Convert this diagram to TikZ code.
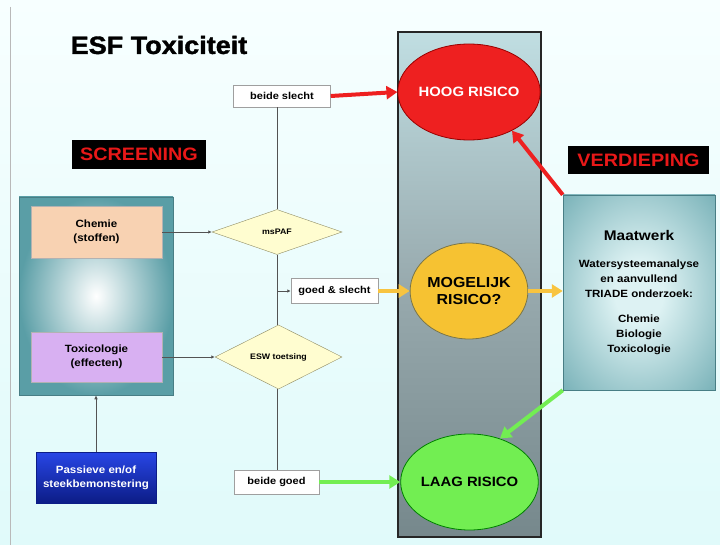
\documentclass[tikz,border=0pt]{standalone}
\usepackage{fontspec}
\setmainfont{Liberation Sans}[FakeStretch=1.1]
\newfontfamily\titlefont{Liberation Sans}[UprightFont={* Bold}, FakeBold=1.5, FakeStretch=1.08]
\usetikzlibrary{shapes.geometric,arrows.meta}
\definecolor{bgtop}{HTML}{F7FFFF}
\definecolor{bgbot}{HTML}{E0FAFA}
\definecolor{tealc}{HTML}{5A9EA6}
\definecolor{teallight}{HTML}{DDF2F3}
\definecolor{redtxt}{HTML}{E81818}
\definecolor{redc}{HTML}{EE2020}
\definecolor{yelc}{HTML}{F6C232}
\definecolor{yelarrow}{HTML}{F8C440}
\definecolor{greenc}{HTML}{72EE52}
\definecolor{paneltop}{HTML}{C0DEE2}
\definecolor{panelmid}{HTML}{98AAAE}
\definecolor{panelbot}{HTML}{76888C}
\definecolor{peach}{HTML}{F8D2B2}
\definecolor{lavender}{HTML}{D8B0F2}
\definecolor{diafill}{HTML}{FFFDD0}
\definecolor{bluetop}{HTML}{2846E6}
\definecolor{bluebot}{HTML}{0C1C86}
\pgfdeclareradialshading{maatshade}{\pgfpoint{0bp}{0bp}}{color(0bp)=(teallight); color(8bp)=(teallight); color(44bp)=(tealc); color(50bp)=(tealc)}
\begin{document}
\begin{tikzpicture}[x=1pt,y=-1pt,
  tag/.style={fill=black, text=redtxt, font=\bfseries\fontsize{18}{20}\selectfont, inner sep=0pt},
  resultbox/.style={draw=gray!75, fill=white, font=\bfseries\fontsize{10}{12}\selectfont, inner sep=0pt},
  risk/.style={ellipse, inner sep=0pt, minimum width=108pt, minimum height=96pt, align=center, line width=0.8pt},
  dia/.style={diamond, draw=gray!70!olive, fill=diafill, inner sep=0pt, font=\bfseries\fontsize{8}{10}\selectfont},
  inbox/.style={inner sep=0pt, minimum width=131pt, align=center, draw=gray!60, font=\bfseries\fontsize{10.5}{14}\selectfont},
  thinline/.style={draw=gray!65!black, line width=0.7pt},
  smalltip/.style={thinline, -{Latex[length=3.5pt,width=3.5pt]}},
  bigarrow/.style={line width=4pt, -{Triangle[length=11pt,width=13pt]}}
]
\useasboundingbox (0,0) rectangle (720,545);
\shade[top color=bgtop, bottom color=bgbot] (0,0) rectangle (720,545);
\draw[gray!55, line width=1pt] (10,7) -- (10,545);

% title and tags
\node[font=\titlefont\fontsize{25}{28}\selectfont] (title) at (159,45) {ESF Toxiciteit};
\node[tag, minimum width=134pt, minimum height=29pt] (screening) at (139,154.5) {SCREENING};
\node[tag, minimum width=141pt, minimum height=28pt] (verdieping) at (638.5,160) {VERDIEPING};

% central panel
\node[draw=black!85, line width=2pt, inner sep=0pt, minimum width=143pt, minimum height=505pt,
      top color=paneltop, bottom color=panelbot, middle color=panelmid] (panel) at (469.5,284.5) {};

% risk circles
\node[risk, fill=redc, draw=red!60!black, text=white, font=\bfseries\fontsize{13.5}{15}\selectfont] (hoog) at (469,92) {HOOG RISICO};
\node[risk, fill=yelc, draw=yellow!40!black, font=\bfseries\fontsize{14.5}{17}\selectfont] (mog) at (469,291) {MOGELIJK\\RISICO?};
\node[risk, fill=greenc, draw=green!50!black, font=\bfseries\fontsize{13.5}{15}\selectfont] (laag) at (469.5,482) {LAAG RISICO};

% maatwerk
\node[shading=maatshade, draw=tealc!80!black, line width=0.5pt, inner sep=0pt, minimum width=152pt, minimum height=195pt,
      align=center, font=\bfseries\fontsize{10.5}{15}\selectfont] (maat) at (639,292.5)
  {{\fontsize{14}{16}\selectfont Maatwerk}\\[12pt] Watersysteemanalyse\\ en aanvullend\\ TRIADE onderzoek:\\[10pt] Chemie\\ Biologie\\ Toxicologie};

% screening box
\node[shading=radial, inner color=white, outer color=tealc, draw=tealc!80!black, line width=0.5pt,
      inner sep=0pt, minimum width=154pt, minimum height=198pt] (screen) at (96,296) {};
\node[inbox, fill=peach, minimum height=52pt] (chemie) at (96.5,232) {Chemie\\(stoffen)};
\node[inbox, fill=lavender, minimum height=50pt] (tox) at (96.5,357) {Toxicologie\\(effecten)};

% blue sampling box
\node[top color=bluetop, bottom color=bluebot, draw=bluebot, inner sep=0pt, minimum width=120pt, minimum height=51pt,
      text=white, align=center, font=\bfseries\fontsize{10.5}{14}\selectfont] (passieve) at (96,477.5) {Passieve en/of\\steekbemonstering};

% diamonds
\node[dia, minimum width=130pt, minimum height=45pt] (mspaf) at (277,232) {msPAF};
\node[dia, minimum width=127pt, minimum height=47pt] (esw) at (278.5,357) {ESW toetsing};

% result boxes
\node[resultbox, minimum width=97pt, minimum height=22pt] (bslecht) at (282,96) {beide slecht};
\node[resultbox, minimum width=87pt, minimum height=25pt] (gslecht) at (334.5,291) {goed \& slecht};
\node[resultbox, minimum width=85pt, minimum height=24pt] (bgoed) at (276.5,482) {beide goed};

% thin connectors
\draw[thinline] (mspaf.north) -- (mspaf.north |- bslecht.south);
\draw[thinline] (mspaf.south) -- (mspaf.south |- esw.north);
\draw[thinline] (mspaf.south |- esw.south) -- (mspaf.south |- bgoed.north);
\draw[smalltip] (gslecht.west -| mspaf.south) -- (gslecht.west);
\draw[smalltip] (chemie.east) -- (mspaf.west);
\draw[smalltip] (tox.east) -- (esw.west);
\draw[thinline, -{Latex[length=4pt,width=3.5pt]}] (passieve.north) -- (screen.south);

% thick arrows
\draw[bigarrow, redc] (bslecht.east) -- (hoog.west);
\draw[bigarrow, redc] (maat.north west) -- (hoog.-42);
\draw[bigarrow, yelarrow] (gslecht.east) -- (mog.west);
\draw[bigarrow, yelarrow] (mog.east) -- (mog.east -| maat.west);
\draw[bigarrow, greenc] (bgoed.east) -- (laag.west);
\draw[bigarrow, greenc] (maat.south west) -- (laag.55);
\end{tikzpicture}
\end{document}
